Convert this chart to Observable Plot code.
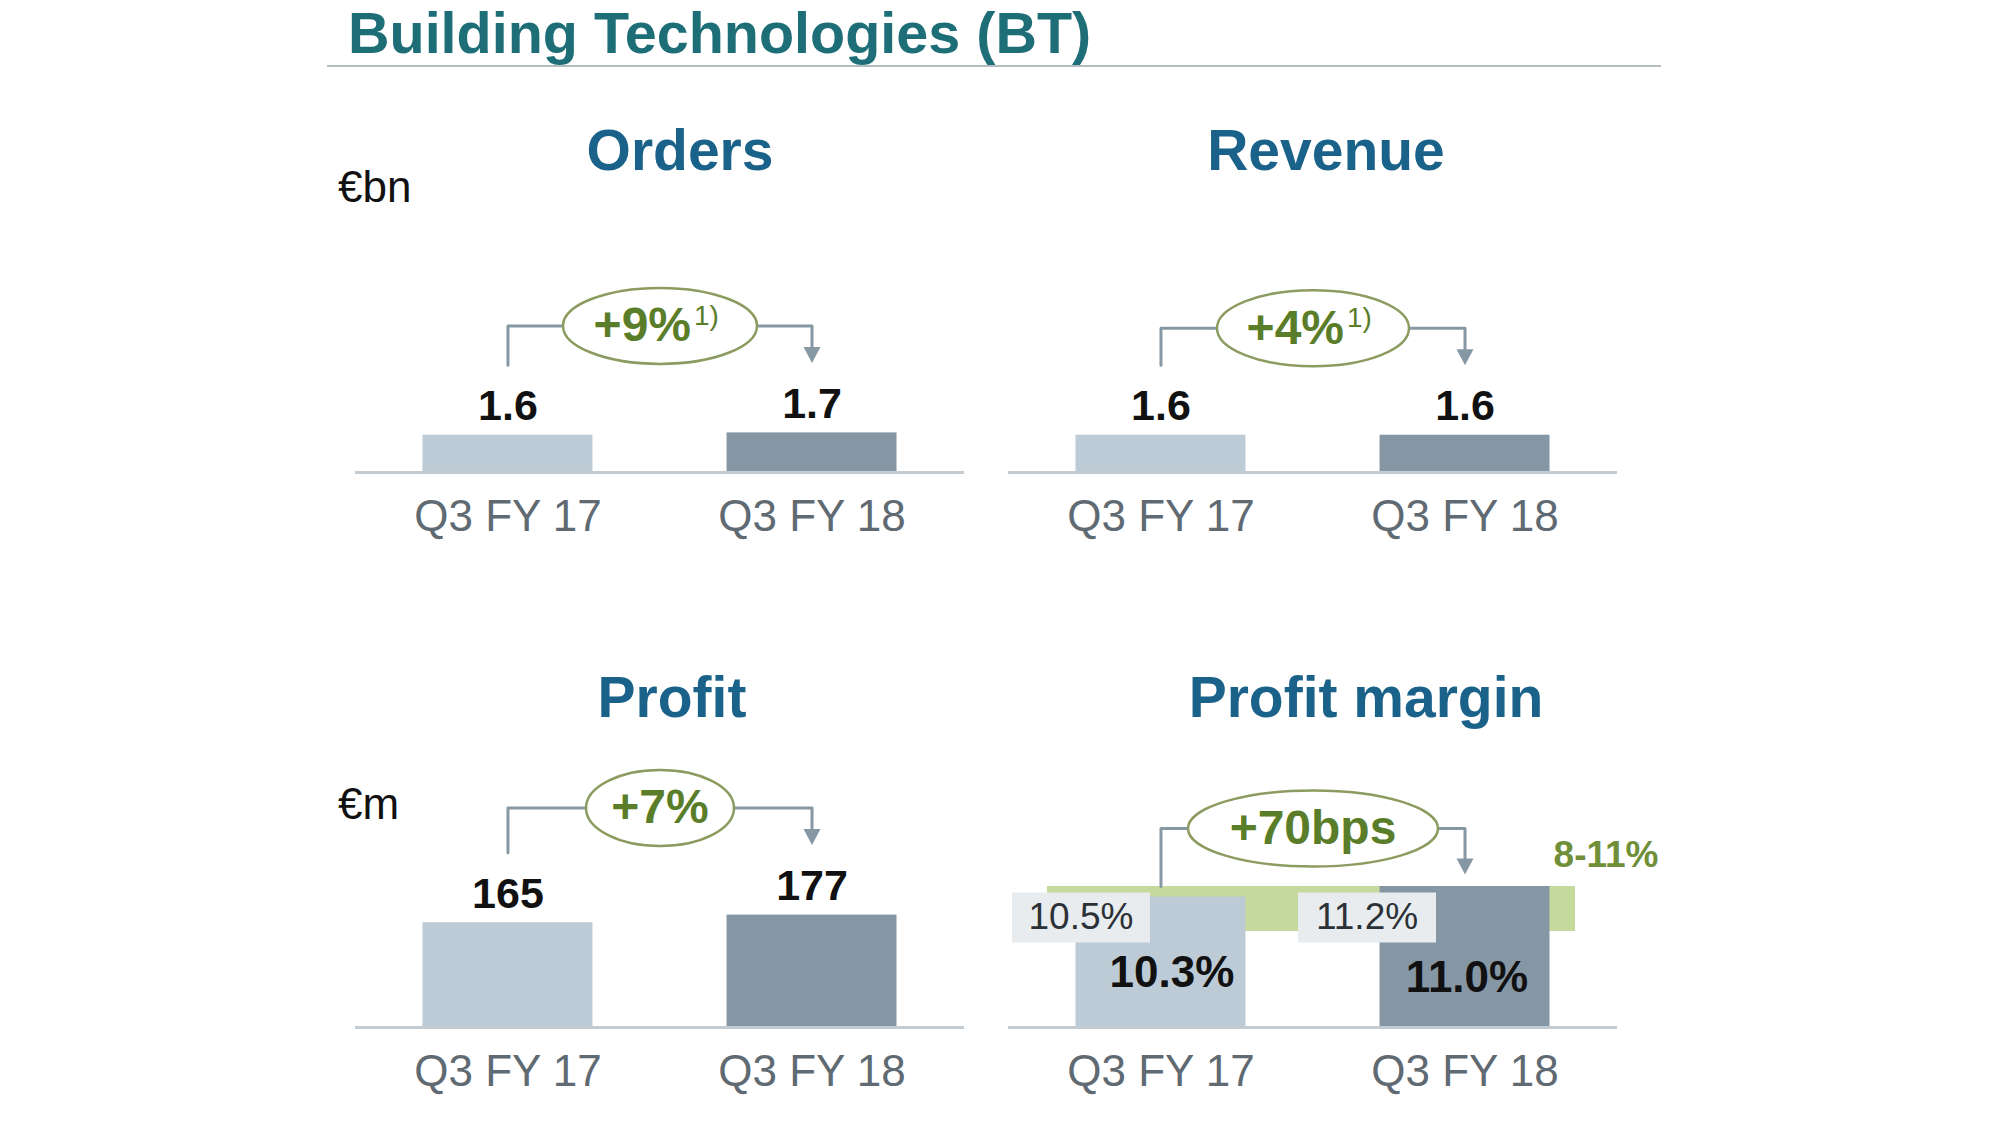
<!DOCTYPE html>
<html>
<head>
<meta charset="utf-8">
<script src="https://cdn.jsdelivr.net/npm/d3@7"></script>
<script src="https://cdn.jsdelivr.net/npm/@observablehq/plot@0.6"></script>
<style>
  html, body { margin: 0; background: #fff; }
  #chart { position: relative; width: 2000px; height: 1125px; background: #fff; overflow: hidden;
           font-family: "Liberation Sans", Arial, Helvetica, sans-serif; }
  .label { position: absolute; line-height: 1; white-space: nowrap; }
  .rule { position: absolute; }
  .panel { position: absolute; }
  .panel svg { display: block; overflow: visible; max-width: none; }
</style>
</head>
<body>
<div id="chart"></div>
<script>
// Building Technologies – quarter comparison
const periods = ["Q3 FY 17", "Q3 FY 18"];
const ordersBn = [1.6, 1.7];
const revenueBn = [1.6, 1.6];
const profitM = [165, 177];
const marginPct = [10.3, 11.0];
const marginExSeverancePct = [10.5, 11.2];
const marginTargetPct = [8, 11];
const growthText = ["+9%", "+4%", "+7%", "+70bps"];
const growthNote = ["1)", "1)", "", ""];
const panelTitles = ["Orders", "Revenue", "Profit", "Profit margin"];
const unitLabels = ["€bn", "€m"];
const pageTitle = "Building Technologies (BT)";

// Styling
const FONT = '"Liberation Sans", Arial, Helvetica, sans-serif';
const BAR_COLORS = ["#bdcbd6", "#8597a5"];
const AXIS_COLOR = "#c4ccd3";
const TICK_COLOR = "#5f6a72";
const LINK_COLOR = "#8798a5";
const OVAL_STROKE = "#8c9b5f";
const GROWTH_COLOR = "#5a7d29";
const TARGET_FILL = "#c7da9d";
const TARGET_TEXT = "#6f8f38";
const BOX_FILL = "#e8ecef";

// Panel geometry (pixels)
const ROWS = {
  top: {top: 200, height: 360, axisY: 272},
  bottom: {top: 740, height: 370, axisY: 287}
};
const COLS = {
  left: {left: 320, width: 670, marginLeft: 35, marginRight: 26},
  right: {left: 990, width: 690, marginLeft: 18, marginRight: 63}
};
const ARROW_H = 16;

const chart = document.getElementById("chart");

function label(text, {x, baseline, size, weight = "normal", color = "#111", anchor = "start"}) {
  const el = document.createElement("div");
  el.className = "label";
  el.textContent = text;
  Object.assign(el.style, {
    left: x + "px",
    top: (baseline - 0.8465 * size) + "px",
    fontSize: size + "px",
    fontWeight: weight,
    color
  });
  if (anchor === "middle") el.style.transform = "translateX(-50%)";
  chart.appendChild(el);
}

// Custom symbols for Plot.dot
const ellipse = (rx, ry) => ({
  draw(ctx) {
    const k = 0.5523;
    ctx.moveTo(rx, 0);
    ctx.bezierCurveTo(rx, ry * k, rx * k, ry, 0, ry);
    ctx.bezierCurveTo(-rx * k, ry, -rx, ry * k, -rx, 0);
    ctx.bezierCurveTo(-rx, -ry * k, -rx * k, -ry, 0, -ry);
    ctx.bezierCurveTo(rx * k, -ry, rx, -ry * k, rx, 0);
    ctx.closePath();
  }
});
const arrowDown = {
  draw(ctx) {
    ctx.moveTo(-8.5, -ARROW_H);
    ctx.lineTo(8.5, -ARROW_H);
    ctx.lineTo(0, 0);
    ctx.closePath();
  }
};
const box = (w, h) => ({
  draw(ctx) { ctx.rect(-w / 2, -h / 2, w, h); }
});

const standardBracket = ({v0, v1, up}) => ({
  start: v0 + up(70),
  tip: v1 + up(70),
  level: Math.max(v0, v1) + up(107)
});
const marginBracket = ({v1, up}) => ({
  start: marginTargetPct[1],
  tip: v1 + up(12),
  level: v1 + up(58)
});

const topValueLabels = (format) => (data) => [
  Plot.text(data, {
    x: "period", y: "value", text: (d) => format(d.value),
    dy: -15, lineAnchor: "bottom", fontSize: 43, fontWeight: "bold", fill: "#111"
  })
];

const pct = (v) => v.toFixed(1) + "%";
const BOX_DX = [-80, -98];
const MARGIN_LABEL_OFFSET = [{dx: 11, dy: -41}, {dx: 2, dy: -36}];

function makePanel(opts) {
  const {values, pxPerUnit, base = 0, row, col} = opts;
  const data = periods.map((period, i) => ({period, value: values[i], i}));
  const up = (px) => px / pxPerUnit;
  const [v0, v1] = values;
  const br = opts.bracket({v0, v1, up});
  const path = [
    {period: periods[0], y: br.start},
    {period: periods[0], y: br.level},
    {period: periods[1], y: br.level},
    {period: periods[1], y: br.tip + up(ARROW_H - 1)}
  ];
  const marks = [
    ...(opts.under ? opts.under(data, up) : []),
    Plot.barY(data, {x: "period", y1: () => base, y2: "value", fill: "period"}),
    Plot.ruleY([base], {stroke: AXIS_COLOR, strokeWidth: 3}),
    ...opts.labels(data, up),
    Plot.line(path, {x: "period", y: "y", stroke: LINK_COLOR, strokeWidth: 3}),
    Plot.dot([br.tip], {x: () => periods[1], y: (d) => d, symbol: arrowDown, fill: LINK_COLOR, stroke: "none"}),
    Plot.dot([br.level], {y: (d) => d, symbol: ellipse(opts.rx, 38), fill: "white", stroke: OVAL_STROKE, strokeWidth: 2.5}),
    Plot.text([opts.growth], {
      y: () => br.level, text: (d) => d,
      textAnchor: opts.note ? "end" : "middle", dx: opts.note ? 31 : 0,
      lineAnchor: "middle", fontSize: 48, fontWeight: "bold", fill: GROWTH_COLOR
    }),
    opts.note ? Plot.text([opts.note], {
      y: () => br.level, text: (d) => d, textAnchor: "start", dx: 34, dy: -1,
      lineAnchor: "bottom", fontSize: 28, fill: GROWTH_COLOR
    }) : null,
    ...(opts.over ? opts.over(data, up) : [])
  ];
  const svg = Plot.plot({
    width: col.width,
    height: row.height,
    marginLeft: col.marginLeft,
    marginRight: col.marginRight,
    marginTop: 0,
    marginBottom: row.height - row.axisY,
    x: {domain: periods, paddingInner: 0.441, paddingOuter: 0.222, align: 0.5, round: false,
        tickSize: 0, tickPadding: 27, label: null},
    y: {domain: [base, base + row.axisY / pxPerUnit], range: [row.axisY, 0], axis: null},
    color: {domain: periods, range: BAR_COLORS},
    style: {background: "transparent", fontFamily: FONT, fontSize: "44px", color: TICK_COLOR, overflow: "visible"},
    marks
  });
  const holder = document.createElement("div");
  holder.className = "panel";
  Object.assign(holder.style, {left: col.left + "px", top: row.top + "px", width: col.width + "px", height: row.height + "px"});
  holder.appendChild(svg);
  chart.appendChild(holder);
}

// Page heading
label(pageTitle, {x: 348, baseline: 54, size: 57.5, weight: "bold", color: "#1e6e78"});
const rule = document.createElement("div");
rule.className = "rule";
Object.assign(rule.style, {left: "327px", top: "65px", width: "1334px", height: "2px", background: "#b5bcc0"});
chart.appendChild(rule);

// Panel headings and units
const HEAD_COLOR = "#1b628a";
label(panelTitles[0], {x: 680, baseline: 170, size: 57, weight: "bold", color: HEAD_COLOR, anchor: "middle"});
label(panelTitles[1], {x: 1326, baseline: 170, size: 57, weight: "bold", color: HEAD_COLOR, anchor: "middle"});
label(panelTitles[2], {x: 672, baseline: 717, size: 57, weight: "bold", color: HEAD_COLOR, anchor: "middle"});
label(panelTitles[3], {x: 1366, baseline: 717, size: 57, weight: "bold", color: HEAD_COLOR, anchor: "middle"});
label(unitLabels[0], {x: 338, baseline: 202, size: 44});
label(unitLabels[1], {x: 338, baseline: 819, size: 44});

// Orders
makePanel({
  values: ordersBn, pxPerUnit: 23.3, row: ROWS.top, col: COLS.left,
  bracket: standardBracket, growth: growthText[0], note: growthNote[0], rx: 97,
  labels: topValueLabels(d3.format(".1f"))
});

// Revenue
makePanel({
  values: revenueBn, pxPerUnit: 23.3, row: ROWS.top, col: COLS.right,
  bracket: standardBracket, growth: growthText[1], note: growthNote[1], rx: 96,
  labels: topValueLabels(d3.format(".1f"))
});

// Profit
makePanel({
  values: profitM, pxPerUnit: 0.635, row: ROWS.bottom, col: COLS.left,
  bracket: standardBracket, growth: growthText[2], note: growthNote[2], rx: 74,
  labels: topValueLabels(d3.format("d"))
});

// Profit margin, with target corridor and margin excluding severance
const MARGIN_BASE = 1.6;
makePanel({
  values: marginPct, pxPerUnit: 15, base: MARGIN_BASE, row: ROWS.bottom, col: COLS.right,
  bracket: marginBracket, growth: growthText[3], note: growthNote[3], rx: 125,
  under: () => [
    Plot.rect([marginTargetPct], {y1: (d) => d[0], y2: (d) => d[1], insetLeft: 39, insetRight: 42, fill: TARGET_FILL})
  ],
  labels: (data) => data.flatMap((d, i) => [
    Plot.dot([d], {x: "period", y: () => MARGIN_BASE, dx: BOX_DX[i], dy: -110,
      symbol: box(138, 50), fill: BOX_FILL, stroke: "none"}),
    Plot.text([d], {x: "period", y: () => MARGIN_BASE, dx: BOX_DX[i], dy: -110,
      text: () => pct(marginExSeverancePct[i]), lineAnchor: "middle", fontSize: 37, fill: "#2b3136"}),
    Plot.text([d], {x: "period", y: () => MARGIN_BASE, dx: MARGIN_LABEL_OFFSET[i].dx, dy: MARGIN_LABEL_OFFSET[i].dy,
      text: (r) => pct(r.value), lineAnchor: "bottom", fontSize: 44, fontWeight: "bold", fill: "#111"})
  ]),
  over: () => [
    Plot.text([marginTargetPct], {frameAnchor: "right", y: (d) => d[1], dx: 41, dy: -20,
      textAnchor: "end", lineAnchor: "bottom", text: (d) => `${d[0]}-${d[1]}%`,
      fontSize: 37, fontWeight: "bold", fill: TARGET_TEXT})
  ]
});
</script>
</body>
</html>
